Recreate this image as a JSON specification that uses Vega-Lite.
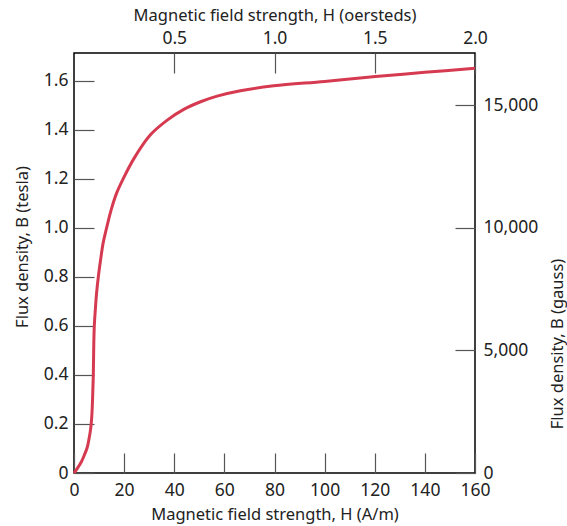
{
  "$schema": "https://vega.github.io/schema/vega-lite/v6.json",
  "width": 401,
  "height": 420,
  "autosize": {"type": "none"},
  "padding": {"left": 74, "top": 53, "right": 92, "bottom": 53},
  "background": "white",
  "config": {
    "view": {"stroke": "#000", "strokeWidth": 1.5},
    "axis": {
      "labelFont": "Noto Sans",
      "titleFont": "Noto Sans",
      "labelFontSize": 17.5,
      "titleFontSize": 16.5,
      "labelColor": "#222",
      "titleColor": "#222",
      "titleFontWeight": "normal",
      "domain": false,
      "grid": false,
      "tickColor": "#555",
      "tickWidth": 1.2,
      "tickSize": -20,
      "labelFlush": false,
      "labelPadding": 26
    }
  },
  "layer": [
    {
      "data": {
        "values": [
          {"H": 0, "B": 0},
          {"H": 1.4, "B": 0.02},
          {"H": 2.9, "B": 0.045},
          {"H": 4.2, "B": 0.075},
          {"H": 5.3, "B": 0.105},
          {"H": 6.0, "B": 0.14},
          {"H": 6.5, "B": 0.17},
          {"H": 6.9, "B": 0.205},
          {"H": 7.2, "B": 0.25},
          {"H": 7.4, "B": 0.3},
          {"H": 7.7, "B": 0.4},
          {"H": 7.9, "B": 0.529},
          {"H": 8.1, "B": 0.6},
          {"H": 8.5, "B": 0.665},
          {"H": 9.0, "B": 0.733},
          {"H": 9.7, "B": 0.8},
          {"H": 10.6, "B": 0.869},
          {"H": 11.6, "B": 0.937},
          {"H": 13.0, "B": 1.0},
          {"H": 14.8, "B": 1.073},
          {"H": 17.0, "B": 1.142},
          {"H": 19.6, "B": 1.2},
          {"H": 23.9, "B": 1.283},
          {"H": 30.5, "B": 1.38},
          {"H": 37.2, "B": 1.44},
          {"H": 43.8, "B": 1.484},
          {"H": 50.5, "B": 1.515},
          {"H": 57.1, "B": 1.538},
          {"H": 66.4, "B": 1.56},
          {"H": 79.7, "B": 1.58},
          {"H": 100, "B": 1.598},
          {"H": 120.3, "B": 1.618},
          {"H": 140, "B": 1.635},
          {"H": 160, "B": 1.652}
        ]
      },
      "mark": {"type": "line", "color": "#d63a50", "strokeWidth": 3, "interpolate": "catmull-rom"},
      "encoding": {
        "x": {
          "field": "H",
          "type": "quantitative",
          "scale": {"domain": [0, 160], "nice": false},
          "axis": {
            "orient": "bottom",
            "values": [0, 20, 40, 60, 80, 100, 120, 140, 160],
            "labelPadding": 28,
            "title": "Magnetic field strength, H (A/m)",
            "titleX": 200.5,
            "titleY": 41,
            "titleBaseline": "middle"
          }
        },
        "y": {
          "field": "B",
          "type": "quantitative",
          "scale": {"domain": [0, 1.714], "nice": false},
          "axis": {
            "orient": "left",
            "values": [0, 0.2, 0.4, 0.6, 0.8, 1.0, 1.2, 1.4, 1.6],
            "labelExpr": "datum.value == 0 ? '0' : format(datum.value, '.1f')",
            "title": "Flux density, B (tesla)",
            "titleAngle": 270,
            "titleX": -52,
            "titleY": 193.5,
            "titleBaseline": "middle"
          }
        }
      }
    },
    {
      "data": {"values": [{"oe": 0, "gauss": 0}, {"oe": 2, "gauss": 17140}]},
      "mark": {"type": "point", "opacity": 0},
      "encoding": {
        "x": {
          "field": "oe",
          "type": "quantitative",
          "scale": {"domain": [0, 2], "nice": false},
          "axis": {
            "orient": "top",
            "values": [0.5, 1.0, 1.5, 2.0],
            "labelExpr": "format(datum.value, '.1f')",
            "title": "Magnetic field strength, H (oersteds)",
            "titleX": 200.5,
            "titleY": -37.5,
            "titleBaseline": "middle"
          }
        },
        "y": {
          "field": "gauss",
          "type": "quantitative",
          "scale": {"domain": [0, 17140], "nice": false},
          "axis": {
            "orient": "right",
            "values": [0, 5000, 10000, 15000],
            "labelExpr": "format(datum.value, ',.0f')",
            "labelPadding": 28,
            "title": "Flux density, B (gauss)",
            "titleAngle": 270,
            "titleX": 82,
            "titleY": 290.5,
            "titleBaseline": "middle"
          }
        }
      }
    }
  ],
  "resolve": {"scale": {"x": "independent", "y": "independent"}}
}
